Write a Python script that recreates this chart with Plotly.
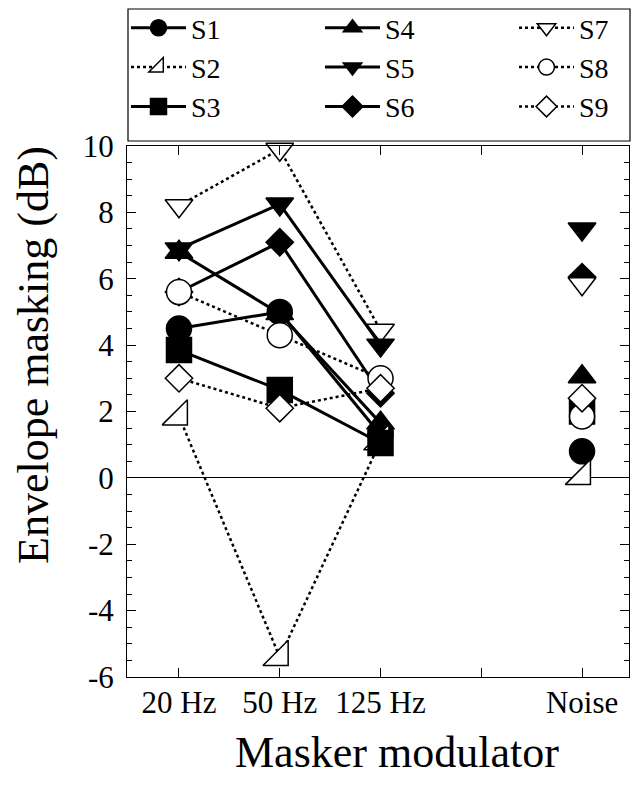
import plotly.graph_objects as go

# ---- data ----
categories = ["20 Hz", "50 Hz", "125 Hz", "Noise"]
cat_pos = [1, 2, 3, 5]
tick_vals = [1, 2, 3, 4, 5]
tick_text = ["20 Hz", "50 Hz", "125 Hz", "", "Noise"]

s1 = [4.5, 5.0, 1.3, 0.8]
s2 = [1.85, -5.4, 1.1, 0.05]
s3 = [3.85, 2.65, 1.05, 2.0]
s4 = [6.8, 4.95, 1.65, 3.05]
s5 = [6.9, 8.25, 4.0, 7.5]
s6 = [5.6, 7.1, 2.55, 6.05]
s7 = [8.2, 9.9, 4.45, 5.85]
s8 = [5.6, 4.3, 3.0, 1.85]
s9 = [3.0, 2.1, 2.7, 2.4]

y_ticks = [-6, -4, -2, 0, 2, 4, 6, 8, 10]
y_tick_text = ["-6", "-4", "-2", "0", "2", "4", "6", "8", "10"]

# ---- styles ----
series = {
    "S1": dict(y=s1, symbol="circle", size=25, fill="black", dash="solid", lw=3, rank=1),
    "S2": dict(y=s2, symbol="triangle-se", size=28, fill="white", dash="dot", lw=2.5, rank=4),
    "S3": dict(y=s3, symbol="square", size=25, fill="black", dash="solid", lw=3, rank=7),
    "S4": dict(y=s4, symbol="triangle-up", size=24, fill="black", dash="solid", lw=3, rank=2),
    "S5": dict(y=s5, symbol="triangle-down", size=24, fill="black", dash="solid", lw=3, rank=5),
    "S6": dict(y=s6, symbol="diamond", size=21, fill="black", dash="solid", lw=3, rank=8),
    "S7": dict(y=s7, symbol="triangle-down", size=24, fill="white", dash="dot", lw=2.5, rank=3),
    "S8": dict(y=s8, symbol="circle", size=25, fill="white", dash="dot", lw=2.5, rank=6),
    "S9": dict(y=s9, symbol="diamond", size=21, fill="white", dash="dot", lw=2.5, rank=9),
}
draw_order = ["S4", "S6", "S1", "S2", "S3", "S7", "S5", "S8", "S9"]

FONT = "Liberation Serif"

fig = go.Figure()
for name in draw_order:
    st = series[name]
    # modulated maskers are joined by lines; the noise masker stands alone
    xs = cat_pos[:3] + [None] + cat_pos[3:]
    ys = st["y"][:3] + [None] + st["y"][3:]
    fig.add_trace(go.Scatter(
        x=xs, y=ys, name=name, mode="lines+markers", connectgaps=False,
        legendrank=st["rank"], cliponaxis=False,
        legendwidth=124 if st["rank"] in (1, 2, 4, 5, 7, 8) else 30,
        line=dict(color="black", width=st["lw"], dash=st["dash"]),
        marker=dict(symbol=st["symbol"], size=st["size"], color=st["fill"],
                    line=dict(color="black", width=1.5)),
    ))

W, H = 633, 785
ML, MR, MT, MB = 127, 4, 146, 108
pw = W - ML - MR
ph = H - MT - MB

def px_x(p):
    return (p - ML) / pw

def px_y(p):
    return (H - MB - p) / ph

fig.update_layout(
    width=W, height=H,
    margin=dict(l=ML, r=MR, t=MT, b=MB, pad=0, autoexpand=False),
    paper_bgcolor="white", plot_bgcolor="white",
    font=dict(family=FONT, color="black", size=31),
    showlegend=True,
    legend=dict(
        orientation="h", traceorder="normal",
        x=-0.002, xanchor="left", y=px_y(3), yanchor="top",
        font=dict(family=FONT, size=28, color="black"),
        itemwidth=55,
        bgcolor="rgba(0,0,0,0)", borderwidth=0,
    ),
    xaxis=dict(
        range=[0.484, 5.466], tickmode="array", tickvals=tick_vals, ticktext=tick_text,
        ticks="inside", ticklen=9, tickwidth=1, tickcolor="black",
        showline=True, linecolor="black", linewidth=1, mirror="ticks",
        showgrid=False, zeroline=False,
        tickfont=dict(family=FONT, size=31, color="black"),
        ticklabelstandoff=-2,
    ),
    yaxis=dict(
        range=[-6, 10], tickmode="array", tickvals=y_ticks, ticktext=y_tick_text,
        ticks="inside", ticklen=9, tickwidth=1, tickcolor="black",
        minor=dict(dtick=0.5, ticks="inside", ticklen=5, tickcolor="black", showgrid=False),
        showline=True, linecolor="black", linewidth=1, mirror="ticks",
        showgrid=False, zeroline=True, zerolinecolor="black", zerolinewidth=1,
        tickfont=dict(family=FONT, size=31, color="black"),
        ticklabelstandoff=6,
    ),
    shapes=[dict(type="rect", xref="paper", yref="paper",
                 x0=px_x(128), x1=px_x(630), y0=px_y(141), y1=px_y(9),
                 line=dict(color="black", width=1.2), fillcolor="rgba(0,0,0,0)")],
    annotations=[
        dict(text="Envelope masking (dB)", xref="paper", yref="paper",
             x=px_x(33), y=px_y(355), textangle=-90, showarrow=False,
             xanchor="center", yanchor="middle",
             font=dict(family=FONT, size=44, color="black")),
        dict(text="Masker modulator", xref="paper", yref="paper",
             x=px_x(397), y=px_y(752), showarrow=False,
             xanchor="center", yanchor="middle",
             font=dict(family=FONT, size=44, color="black")),
    ],
)

fig.write_html("out.html", config={"displayModeBar": False},
               post_script="document.body.style.margin='0px';")
